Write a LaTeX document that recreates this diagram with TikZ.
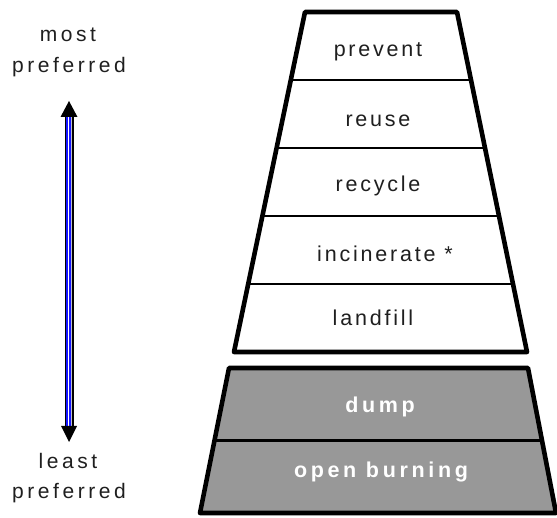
\documentclass[tikz,border=0pt]{standalone}
\usepackage{fontspec}
\setmainfont{Liberation Sans}[LetterSpace=12]
\newfontfamily\tierfont{Liberation Sans}[LetterSpace=13]
\newfontfamily\badfont{Liberation Sans}[LetterSpace=17]
\newfontfamily\sidefont{Liberation Sans}[LetterSpace=17]
\usetikzlibrary{calc}
\definecolor{dumpgray}{RGB}{152,152,152}
\definecolor{shaftblue}{RGB}{20,20,255}
\definecolor{shaftgray}{RGB}{190,190,200}
\tikzset{
  outline/.style={draw=black,line width=4.6pt,line join=round},
  divider/.style={draw=black,line width=2.3pt},
  tier/.style={anchor=base,inner sep=0pt,font=\tierfont\fontsize{21.5}{25}\selectfont,text=black!88},
  badtier/.style={anchor=base,inner sep=0pt,font=\badfont\fontsize{21.5}{25}\selectfont\bfseries,text=white},
  side/.style={anchor=base,inner sep=0pt,font=\sidefont\fontsize{21}{24}\selectfont,text=black!88},
  head/.style={fill=black,draw=none}
}
\begin{document}
\begin{tikzpicture}[x=1pt,y=-1pt]
\useasboundingbox (0,0) rectangle (557,518);

% ---- preferred tiers ----
\coordinate (tl) at (305,12);
\coordinate (tr) at (457,12);
\coordinate (br) at (527,352);
\coordinate (bl) at (234,352);
\fill[white] (tl) -- (tr) -- (br) -- (bl) -- cycle;
\foreach \t in {0.2,0.4,0.6,0.8}
  \draw[divider] ($(tl)!\t!(bl)$) -- ($(tr)!\t!(br)$);
\draw[outline] (tl) -- (tr) -- (br) -- (bl) -- cycle;

\node[tier] (prevent)    at (378,57)  {prevent};
\node[tier] (reuse)      at (378,127) {reuse};
\node[tier] (recycle)    at (378,192) {recycle};
\node[tier] (incinerate) at (385,262) {incinerate *};
\node[tier] (landfill)   at (373,326) {landfill};

% ---- non-preferred tiers ----
\coordinate (ltl) at (229,368);
\coordinate (ltr) at (528,368);
\coordinate (lbr) at (556,513);
\coordinate (lbl) at (200,513);
\fill[dumpgray] (ltl) -- (ltr) -- (lbr) -- (lbl) -- cycle;
\draw[divider] ($(ltl)!0.5!(lbl)$) -- ($(ltr)!0.5!(lbr)$);
\draw[outline] (ltl) -- (ltr) -- (lbr) -- (lbl) -- cycle;

\node[badtier] (dump) at (380,413) {dump};
\node[badtier] (burn) at (381,478) {open burning};

% ---- preference scale ----
\node[side] (most)   at (68,42)  {most};
\node[side] (mostp)  at (69,73)  {preferred};
\node[side] (least)  at (68,468) {least};
\node[side] (leastp) at (69,498) {preferred};

\coordinate (up)   at (69,101);
\coordinate (down) at (69,442);
\coordinate (ub) at ($(up)+(0,16)$);
\coordinate (db) at ($(down)+(0,-16)$);

% striped shaft
\fill[black]      ($(ub)+(-3.8,0)$) rectangle ($(db)+(4.6,0)$);
\fill[shaftblue]  ($(ub)+(-3.4,0)$) rectangle ($(db)+(-1.5,0)$);
\fill[white]      ($(ub)+(-1.5,0)$) rectangle ($(db)+(-0.2,0)$);
\fill[shaftblue]  ($(ub)+(-0.2,0)$) rectangle ($(db)+(1.5,0)$);
\fill[shaftgray]  ($(ub)+(1.5,0)$)  rectangle ($(db)+(2.8,0)$);

% arrow heads
\fill[head] (up) -- ($(ub)+(-8.5,0)$) -- ($(ub)+(8.5,0)$) -- cycle;
\fill[head] (down) -- ($(db)+(-8,0)$) -- ($(db)+(8,0)$) -- cycle;
\end{tikzpicture}
\end{document}
